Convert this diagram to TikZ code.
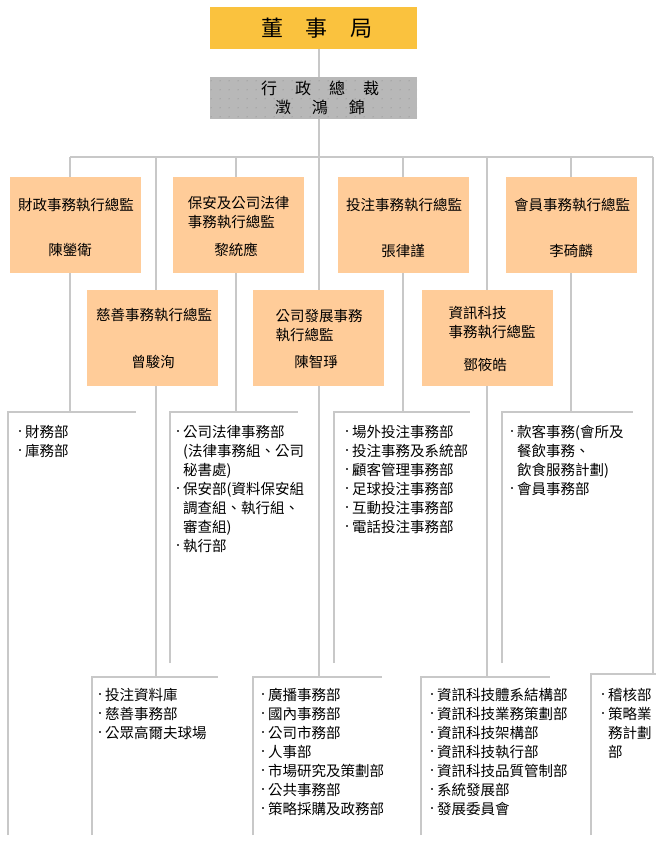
\documentclass[tikz,border=0pt]{standalone}
\usepackage{fontspec}
\setmainfont{Noto Sans CJK TC}
\usetikzlibrary{calc,patterns.meta}
\definecolor{boardyellow}{RGB}{250,194,62}
\definecolor{ceogray}{RGB}{184,184,184}
\definecolor{ceodot}{RGB}{140,140,140}
\definecolor{dirpeach}{RGB}{255,204,153}
\definecolor{linegray}{RGB}{200,200,200}
\tikzdeclarepattern{
  name=ceodots,
  type=uncolored,
  bounding box={(0pt,0pt) and (9pt,9pt)},
  tile size={(9pt,9pt)},
  code={\fill (4.5pt,4.5pt) circle (0.6pt);}
}
\tikzset{
  conn/.style    ={line width=1.5pt, linegray},
  boardbox/.style={rectangle, fill=boardyellow, minimum width=207pt,
                   minimum height=42pt, inner sep=0pt},
  ceobox/.style  ={rectangle, fill=ceogray,
                   postaction={pattern=ceodots, pattern color=ceodot},
                   minimum width=207pt, minimum height=42pt, inner sep=0pt},
  boardtext/.style={inner sep=0pt, font=\fontsize{22}{24}\selectfont},
  ceotext/.style ={inner sep=0pt, align=center, font=\fontsize{16}{19}\selectfont},
  dirbox/.style  ={rectangle, fill=dirpeach, minimum width=131pt,
                   minimum height=96pt, inner sep=0pt},
  dtitle/.style  ={inner sep=0pt, align=left, font=\fontsize{14.5}{19}\selectfont},
  dname/.style   ={inner sep=0pt, font=\fontsize{14.5}{19}\selectfont},
  deptlist/.style={anchor=north west, inner sep=0pt, align=left,
                   font=\fontsize{14.5}{19}\selectfont},
}
\newcommand{\deptitem}[1]{\makebox[7pt][l]{\hspace{1pt}\textcolor{black!70}{\raisebox{0.4em}{\rule{1.6pt}{1.6pt}}}}#1}
\newcommand{\deptcont}[1]{\hspace*{7pt}#1}

\begin{document}
\begin{tikzpicture}[x=1pt,y=-1pt]
  \fill[white] (0,0) rectangle (670,841);
  \useasboundingbox (0,0) rectangle (670,841);

  % top of the chart
  \node[boardbox] (board) at (313.5,28) {};
  \node[ceobox]   (ceo)   at (313.5,98) {};
  \coordinate (j) at (319,157);
  \draw[conn] (board.south -| j) -- (ceo.north -| j);
  \draw[conn] (ceo.south -| j) -- (j);

  % columns down to the lists
  \foreach \i/\x/\y in {1/70/412,2/236/412,3/403/412,4/571/412,
                        5/156/677,6/319/677,7/487/677,8/653/674} {
    \coordinate (t\i) at (\x,157);
    \coordinate (b\i) at (\x,\y);
    \draw[conn] (t\i) -- (b\i);
  }
  \draw[conn] (t1) -- (t8);

  % open list frames
  \foreach \n/\l/\r/\t/\b in {1/8/136/412/835,2/170/298/412/663,
                              3/334/470/412/663,4/502/633/412/663,
                              5/92/218/677/835,6/253/382/677/835,
                              7/421/550/677/835,8/591/656/674/835} {
    \coordinate (k\n) at (\l,\t);
    \draw[conn] (\l,\b) -- (k\n) -- (\r,\t);
  }

  \node[boardtext] (boardlbl) at ($(board)+(3.5,0)$)
    {董\hspace{23pt}事\hspace{23pt}局};
  \node[ceotext] (ceolbl) at ($(ceo)+(6.5,0)$)
    {行\hspace{18pt}政\hspace{18pt}總\hspace{18pt}裁\\
     澂\hspace{21pt}鴻\hspace{21pt}錦};

  % executive directors
  \node[dirbox] (d1) at (75,225)    {};
  \node[dirbox] (d2) at (238.5,225) {};
  \node[dirbox] (d3) at (403,225)   {};
  \node[dirbox] (d4) at (571.5,225) {};
  \node[dirbox] (d5) at (152.5,338) {};
  \node[dirbox] (d6) at (318.5,338) {};
  \node[dirbox] (d7) at (487,338)   {};

  \node[dtitle] (d1t) at ($(d1.north)+(1,28)$)     {財政事務執行總監};
  \node[dtitle] (d2t) at ($(d2.north)+(0,35.5)$)   {保安及公司法律\\事務執行總監};
  \node[dtitle] (d3t) at ($(d3.north)+(1,28)$)     {投注事務執行總監};
  \node[dtitle] (d4t) at ($(d4.north)+(0.5,28)$)   {會員事務執行總監};
  \node[dtitle] (d5t) at ($(d5.north)+(1.5,25)$)   {慈善事務執行總監};
  \node[dtitle] (d6t) at ($(d6.north)+(0.5,36)$)   {公司發展事務\\執行總監};
  \node[dtitle] (d7t) at ($(d7.north)+(5,33)$)     {資訊科技\\事務執行總監};

  \node[dname] (d1n) at ($(d1.north -| t1)+(0,73)$) {陳鎣衛};
  \node[dname] (d2n) at ($(d2.north -| t2)+(0,73)$) {黎統應};
  \node[dname] (d3n) at ($(d3.north -| t3)+(0,74)$) {張律謹};
  \node[dname] (d4n) at ($(d4.north -| t4)+(0,74)$) {李碕麟};
  \node[dname] (d5n) at ($(d5.north -| t5)+(-3,72)$) {曾駿洵};
  \node[dname] (d6n) at ($(d6.north -| t6)+(-3,72)$) {陳智琤};
  \node[dname] (d7n) at ($(d7.north -| t7)+(-2,75)$) {鄧筱皓};

  % department lists
  \node[deptlist] (l1) at ($(k1)+(10,13)$)
    {\deptitem{財務部}\\\deptitem{庫務部}};
  \node[deptlist] (l2) at ($(k2)+(6,13)$)
    {\deptitem{公司法律事務部}\\\deptcont{(法律事務組、公司}\\\deptcont{秘書處)}\\
     \deptitem{保安部(資料保安組}\\\deptcont{調查組、執行組、}\\\deptcont{審查組)}\\
     \deptitem{執行部}};
  \node[deptlist] (l3) at ($(k3)+(11,13)$)
    {\deptitem{場外投注事務部}\\\deptitem{投注事務及系統部}\\\deptitem{顧客管理事務部}\\
     \deptitem{足球投注事務部}\\\deptitem{互動投注事務部}\\\deptitem{電話投注事務部}};
  \node[deptlist] (l4) at ($(k4)+(8,13)$)
    {\deptitem{款客事務(會所及}\\\deptcont{餐飲事務、}\\\deptcont{飲食服務計劃)}\\
     \deptitem{會員事務部}};
  \node[deptlist] (l5) at ($(k5)+(6,11)$)
    {\deptitem{投注資料庫}\\\deptitem{慈善事務部}\\\deptitem{公眾高爾夫球場}};
  \node[deptlist] (l6) at ($(k6)+(8,11)$)
    {\deptitem{廣播事務部}\\\deptitem{國內事務部}\\\deptitem{公司市務部}\\
     \deptitem{人事部}\\\deptitem{市場研究及策劃部}\\\deptitem{公共事務部}\\
     \deptitem{策略採購及政務部}};
  \node[deptlist] (l7) at ($(k7)+(9,11)$)
    {\deptitem{資訊科技體系結構部}\\\deptitem{資訊科技業務策劃部}\\\deptitem{資訊科技架構部}\\
     \deptitem{資訊科技執行部}\\\deptitem{資訊科技品質管制部}\\\deptitem{系統發展部}\\
     \deptitem{發展委員會}};
  \node[deptlist] (l8) at ($(k8)+(10,14)$)
    {\deptitem{稽核部}\\\deptitem{策略業}\\\deptcont{務計劃}\\\deptcont{部}};
\end{tikzpicture}
\end{document}
